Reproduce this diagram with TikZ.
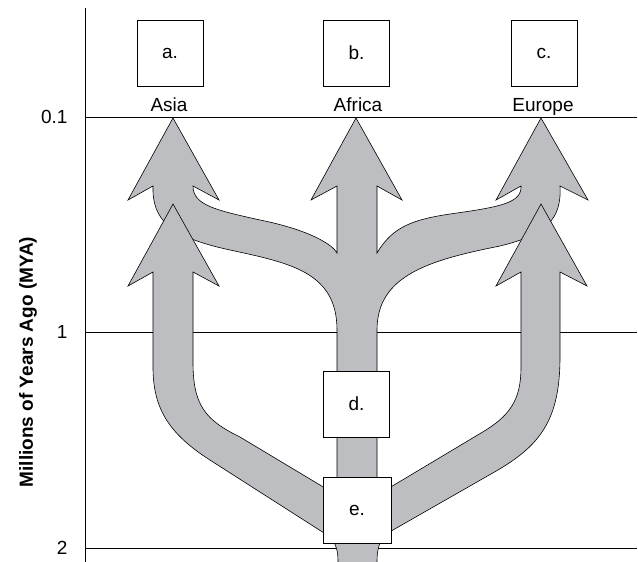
\documentclass[tikz,border=0pt]{standalone}
\usepackage{fontspec}
\setmainfont{Liberation Sans}
\usepackage{tikz}
\usetikzlibrary{positioning,calc}
\usepackage{xcolor}
\definecolor{branchgray}{RGB}{189,190,194}

\begin{document}
\begin{tikzpicture}[
  x=1pt, y=-1pt,
  stage/.style={rectangle, draw, line width=0.8pt, fill=white, minimum size=66pt, inner sep=0pt, font=\fontsize{19}{22}\selectfont},
  place/.style={anchor=base, font=\fontsize{19}{22}\selectfont},
  tick/.style={anchor=east, font=\fontsize{19}{22}\selectfont},
  lineage/.style={fill=branchgray, draw=black, line width=0.6pt, line join=miter}
]
\useasboundingbox (0,0) rectangle (638,562);

% 時間軸
\draw[line width=0.8pt] (85,8) -- (85,562);
\foreach \t/\y in {0.1/117, 1/332, 2/548} {
  \draw[line width=0.8pt] (85,\y) -- (637,\y);
  \node[tick] (t\y) at (71,\y) {\t};
}
\node[rotate=90, font=\fontsize{19}{22}\selectfont\bfseries] (axis) at (28,362) {Millions of Years Ago (MYA)};

% アフリカからの幹と上の枝
\draw[lineage] (356,118) -- (402,200) -- (377,186) -- (377,253)
  .. controls (392,228) and (410,220) .. (450,214)
  .. controls (500,207) and (522,203) .. (521,186)
  -- (496,200) -- (541,118) -- (588,200) -- (560,186)
  .. controls (562,220) and (545,235) .. (500,246)
  .. controls (430,260) and (377,275) .. (377,330)
  -- (377,490) -- (337,490) -- (337,330)
  .. controls (337,272) and (290,263) .. (230,250)
  .. controls (170,237) and (152,220) .. (153,186)
  -- (128,200) -- (173,118) -- (219,200) -- (193,186)
  .. controls (193,205) and (215,210) .. (260,220)
  .. controls (310,230) and (333,245) .. (337,253)
  -- (337,186) -- (311,200) -- cycle;

% 下の枝（アジア側）
\draw[lineage] (173,204) -- (219,286) -- (193,272) -- (193,362)
  .. controls (193,405) and (205,420) .. (240,437)
  -- (335,494) -- (335,540) -- (213,462)
  .. controls (170,435) and (153,410) .. (153,367)
  -- (153,272) -- (128,286) -- cycle;

% 下の枝（ヨーロッパ側）
\draw[lineage] (541,204) -- (587,286) -- (560,272) -- (560,357)
  .. controls (560,420) and (540,445) .. (498,470)
  -- (379,538) -- (379,494) -- (481,433)
  .. controls (510,416) and (521,400) .. (521,367)
  -- (521,272) -- (496,286) -- cycle;

% 根元
\draw[lineage] (333,540) .. controls (337,548) and (338,552) .. (338,563)
  -- (377,563) .. controls (377,552) and (378,548) .. (381,540) -- cycle;

% 箱
\node[stage] (a) at (170,53) {a.};
\node[stage] (b) at (356.5,53) {b.};
\node[stage] (c) at (544,53) {c.};
\node[stage] (d) at (356.5,404) {d.};
\node[stage, minimum width=68pt] (e) at (357,510) {e.};

\node[place] (asia) at (169,111) {Asia};
\node[place] (africa) at (358,111) {Africa};
\node[place] (europe) at (543,111) {Europe};
\end{tikzpicture}
\end{document}
